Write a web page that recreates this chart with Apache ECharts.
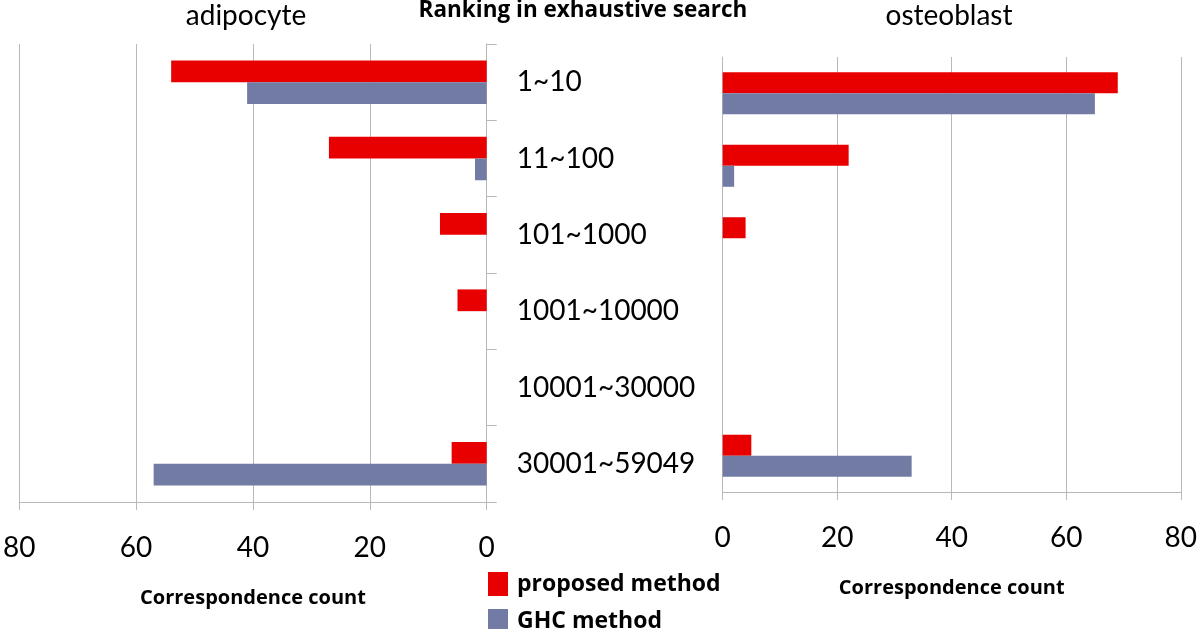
<!DOCTYPE html>
<html>
<head>
<meta charset="utf-8">
<script src="https://cdn.jsdelivr.net/npm/echarts@6/dist/echarts.min.js"></script>
<style>html,body{margin:0;padding:0;background:#fff}#c{width:1200px;height:629px}</style>
</head>
<body>
<div id="c"></div>
<script>
const categories = ['1~10', '11~100', '101~1000', '1001~10000', '10001~30000', '30001~59049'];
const adipocyteProposed = [54, 27, 8, 5, 0, 6];
const adipocyteGHC = [41, 2, 0, 0, 0, 57];
const osteoblastProposed = [69, 22, 4, 0, 0, 5];
const osteoblastGHC = [65, 2, 0, 0, 0, 33];
const xTicks = [0, 20, 40, 60, 80];
const seriesNames = ['proposed method', 'GHC method'];

const FONT = 'Lato, "Open Sans", sans-serif';
const BFONT = '"Open Sans", Lato, sans-serif';
const RED = '#e80000';
const BLUE = '#717ba3';
const GRID = '#b8b8b8';

const chart = echarts.init(document.getElementById('c'), null, {renderer: 'canvas'});

function xAxisCfg(gridIndex, inverse) {
  return {
    type: 'value', gridIndex, inverse,
    min: xTicks[0], max: xTicks[xTicks.length - 1], interval: xTicks[1] - xTicks[0],
    name: 'Correspondence count', nameLocation: 'middle', nameGap: 86,
    nameTextStyle: {fontFamily: BFONT, fontWeight: 'bold', fontSize: 20, color: '#000'},
    axisLine: {show: true, lineStyle: {color: GRID, width: 1}},
    axisTick: {show: true, length: 8, lineStyle: {color: GRID}},
    axisLabel: {fontFamily: FONT, fontSize: 28, color: '#000', margin: 32},
    splitLine: {show: true, lineStyle: {color: GRID, width: 1}}
  };
}

function legendCfg(name, top) {
  return {
    orient: 'vertical', left: 483, top: top,
    itemWidth: 20, itemHeight: 24, itemGap: 12,
    icon: 'rect',
    data: [name],
    textStyle: {fontFamily: BFONT, fontWeight: 'bold', fontSize: 23, color: '#000', padding: [0, 0, 0, 4]}
  };
}

const option = {
  animation: false,
  backgroundColor: '#fff',
  legend: [legendCfg(seriesNames[0], 567), legendCfg(seriesNames[1], 604)],
  grid: [
    {left: 14.7, width: 472, top: 44, height: 458, containLabel: false},
    {left: 722.7, width: 462.3, top: 57, height: 435, containLabel: false}
  ],
  xAxis: [xAxisCfg(0, true), xAxisCfg(1, false)],
  yAxis: [
    {
      type: 'category', gridIndex: 0, data: categories, inverse: true, position: 'right',
      axisLine: {show: true, lineStyle: {color: GRID}},
      axisTick: {show: true, length: 10, lineStyle: {color: GRID}},
      axisLabel: {fontFamily: FONT, fontSize: 28, color: '#000', margin: 30, align: 'left'}
    },
    {
      type: 'category', gridIndex: 1, data: categories, inverse: true, position: 'left',
      axisLine: {show: true, lineStyle: {color: GRID}},
      axisTick: {show: false},
      axisLabel: {show: false}
    }
  ],
  series: [
    {name: seriesNames[0], type: 'bar', xAxisIndex: 0, yAxisIndex: 0, data: adipocyteProposed,
     itemStyle: {color: RED}, barGap: '0%', barCategoryGap: '43%'},
    {name: seriesNames[1], type: 'bar', xAxisIndex: 0, yAxisIndex: 0, data: adipocyteGHC,
     itemStyle: {color: BLUE}, barGap: '0%', barCategoryGap: '43%'},
    {name: seriesNames[0], type: 'bar', xAxisIndex: 1, yAxisIndex: 1, data: osteoblastProposed,
     itemStyle: {color: RED}, barGap: '0%', barCategoryGap: '42%'},
    {name: seriesNames[1], type: 'bar', xAxisIndex: 1, yAxisIndex: 1, data: osteoblastGHC,
     itemStyle: {color: BLUE}, barGap: '0%', barCategoryGap: '42%'}
  ],
  graphic: [
    {type: 'text', style: {text: 'adipocyte', x: 246, y: 16, align: 'center', verticalAlign: 'middle',
      font: '28px ' + FONT, fill: '#000'}},
    {type: 'text', style: {text: 'Ranking in exhaustive search', x: 583, y: 11, align: 'center', verticalAlign: 'middle',
      font: 'bold 22.5px ' + BFONT, fill: '#000'}},
    {type: 'text', style: {text: 'osteoblast', x: 949, y: 16, align: 'center', verticalAlign: 'middle',
      font: '28px ' + FONT, fill: '#000'}}
  ]
};
chart.setOption(option);
</script>
</body>
</html>
